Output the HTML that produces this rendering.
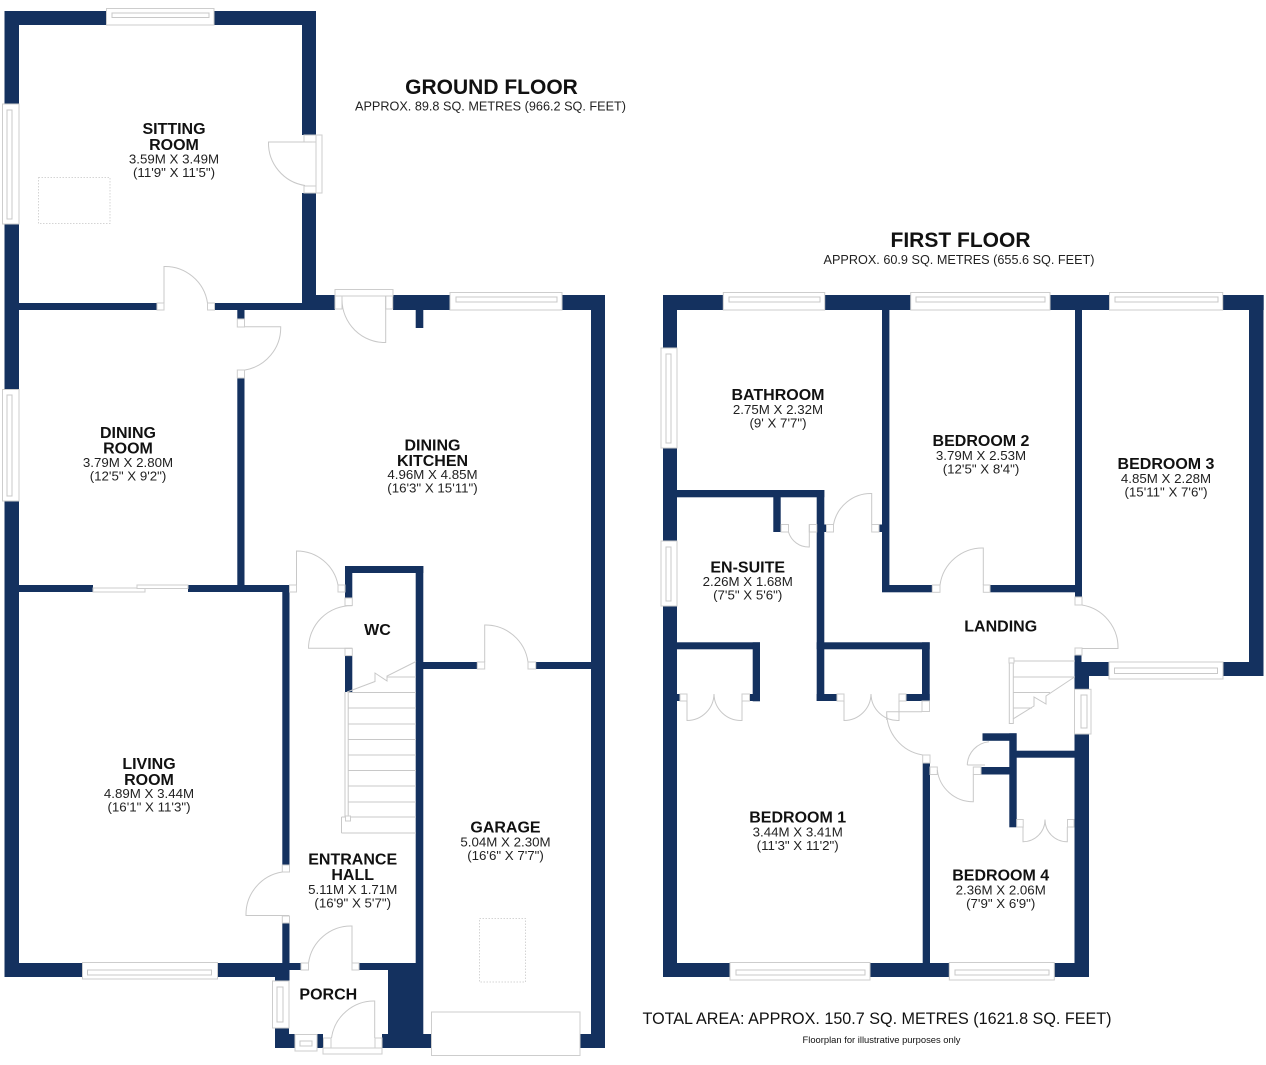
<!DOCTYPE html>
<html><head><meta charset="utf-8"><style>
html,body{margin:0;padding:0;background:#fff}
svg{display:block}
text{font-family:"Liberation Sans",Arial,sans-serif;fill:#111;text-anchor:middle}
.n{font-weight:bold;font-size:16px}
.d{font-size:13.3px;fill:#222}
.l{fill:#fff;stroke:#cdcdcd;stroke-width:1}
.p{fill:none;stroke:#c8c8c8;stroke-width:1}
</style></head><body>
<svg width="1266" height="1065" viewBox="0 0 1266 1065" xmlns="http://www.w3.org/2000/svg">
<rect width="1266" height="1065" fill="#fff"/>
<g fill="#14315f">
<!-- ground: sitting -->
<rect x="4.5" y="11" width="102" height="14"/><rect x="214" y="11" width="102" height="14"/>
<rect x="4.5" y="11" width="14.5" height="93"/><rect x="4.5" y="224" width="14.5" height="165"/><rect x="4.5" y="501" width="14.5" height="476"/>
<rect x="302" y="11" width="14" height="124"/><rect x="302" y="193" width="14" height="110"/>
<rect x="19" y="303" width="138" height="7"/><rect x="215" y="303" width="120" height="7"/><rect x="302" y="295" width="33" height="15"/>
<rect x="237.3" y="310" width="7.2" height="9"/><rect x="237.3" y="378" width="7.2" height="207"/>
<!-- dining/living -->
<rect x="19" y="585" width="74" height="7"/><rect x="188" y="585" width="101.5" height="7"/>
<rect x="282.3" y="585" width="7.2" height="280"/><rect x="282.3" y="923" width="7.2" height="60"/>
<rect x="4.5" y="963" width="78" height="14"/><rect x="217.5" y="963" width="71" height="14"/>
<rect x="275" y="977" width="14" height="5"/>
<rect x="282" y="963" width="19" height="7"/><rect x="359" y="963" width="29" height="7"/>
<!-- kitchen -->
<rect x="393" y="295" width="57" height="15"/><rect x="562" y="295" width="43" height="15"/>
<rect x="591" y="295" width="14" height="753"/><rect x="415.7" y="310" width="7.6" height="18"/>
<rect x="423" y="662" width="54.3" height="7"/><rect x="535.7" y="662" width="55.3" height="7"/>
<!-- wc/hall -->
<rect x="345" y="566" width="78.3" height="7"/><rect x="345" y="566" width="7.3" height="32"/><rect x="345" y="655.6" width="7.3" height="36.4"/>
<rect x="415.7" y="566" width="7.6" height="482"/>
<!-- porch block -->
<rect x="388" y="963" width="35" height="85"/>
<rect x="423" y="1034" width="8.5" height="14"/><rect x="580" y="1034" width="25" height="14"/>
<rect x="275" y="1028" width="14" height="20"/><rect x="275" y="1034" width="20" height="14"/>
<rect x="317" y="1034" width="6" height="14"/><rect x="382" y="1034" width="6" height="14"/>
<!-- first floor perimeter -->
<rect x="663" y="295" width="60.3" height="15"/><rect x="824.7" y="295" width="86" height="15"/><rect x="1050" y="295" width="59.5" height="15"/><rect x="1222.7" y="295" width="41" height="15"/>
<rect x="663" y="295" width="14" height="53"/><rect x="663" y="448" width="14" height="93"/><rect x="663" y="606" width="14" height="371"/>
<rect x="1249" y="295" width="14.5" height="381"/>
<rect x="1223" y="662" width="40" height="14"/><rect x="1074.5" y="662" width="34.5" height="14"/>
<rect x="1074.5" y="655" width="7" height="34"/><rect x="1074.5" y="662" width="14.5" height="27.3"/>
<rect x="1074.5" y="734" width="14.5" height="243"/>
<rect x="663" y="963" width="67" height="14"/><rect x="870" y="963" width="79.3" height="14"/><rect x="1054.3" y="963" width="34.7" height="14"/>
<!-- first floor inner -->
<rect x="882" y="310" width="7.4" height="282"/><rect x="1075" y="310" width="7" height="287"/>
<rect x="882" y="585" width="50.3" height="7.3"/><rect x="990" y="585" width="92" height="7.3"/>
<rect x="677" y="490" width="147.3" height="7.3"/><rect x="816.7" y="490" width="7.6" height="211"/>
<rect x="773.3" y="497" width="7.4" height="35"/>
<rect x="824" y="524.5" width="2.5" height="7.5"/><rect x="879" y="524.5" width="3" height="7.5"/><rect x="677" y="694" width="3" height="7"/>
<rect x="677" y="642.3" width="83" height="7"/><rect x="752.7" y="642.3" width="7.3" height="59"/><rect x="749.5" y="694" width="10.5" height="7"/>
<rect x="816.7" y="642.3" width="113" height="7"/><rect x="922" y="642.3" width="7.7" height="59"/>
<rect x="816.7" y="694" width="20" height="7"/><rect x="906" y="694" width="23.7" height="7"/>
<rect x="922.7" y="763" width="7.3" height="200"/>
<rect x="981" y="767" width="29" height="7.5"/><rect x="1009.3" y="733.3" width="7.4" height="94"/><rect x="982.5" y="733.3" width="34" height="7.5"/>
<rect x="1016" y="750.7" width="58.5" height="7"/>
</g>
<!-- windows -->
<g class="w">
<rect class="l" x="106.5" y="8.5" width="107.5" height="16.5"/><rect class="p" x="112" y="13" width="97" height="4.5"/>
<rect class="l" x="2.5" y="104" width="16.5" height="120"/><rect class="p" x="7" y="110" width="5" height="109"/>
<rect class="l" x="2.5" y="389.5" width="16.5" height="111.5"/><rect class="p" x="7" y="395" width="5" height="101"/>
<rect class="l" x="82.5" y="962.5" width="135" height="16.5"/><rect class="p" x="87.5" y="970" width="124" height="5"/>
<rect class="l" x="450" y="292.5" width="112" height="17.5"/><rect class="p" x="456" y="297" width="101" height="5"/>
<rect class="l" x="723.3" y="292.5" width="101.4" height="17.5"/><rect class="p" x="729" y="297" width="91" height="5"/>
<rect class="l" x="910.7" y="292.5" width="139.3" height="17.5"/><rect class="p" x="916" y="297" width="129" height="5"/>
<rect class="l" x="1109.5" y="292.5" width="113.2" height="17.5"/><rect class="p" x="1115" y="297" width="103" height="5"/>
<rect class="l" x="661" y="348" width="16" height="100"/><rect class="p" x="666" y="354" width="5" height="89"/>
<rect class="l" x="661" y="541" width="16" height="65"/><rect class="p" x="666" y="547" width="5" height="54"/>
<rect class="l" x="1109" y="662" width="114" height="17"/><rect class="p" x="1114.5" y="668" width="103" height="5.5"/>
<rect class="l" x="730" y="962.5" width="140" height="17.5"/><rect class="p" x="736" y="970" width="129" height="5"/>
<rect class="l" x="949.3" y="962.5" width="105" height="17.5"/><rect class="p" x="955" y="970" width="94" height="5"/>
<rect class="l" x="1074.5" y="689.3" width="16.5" height="44.7"/><rect class="p" x="1081" y="695" width="6" height="33"/>
<rect class="l" x="272.5" y="981" width="16.5" height="47"/><rect class="p" x="277" y="987" width="6" height="35"/>
<rect class="l" x="295" y="1034.5" width="22" height="16.5"/><rect class="p" x="300" y="1041" width="12" height="5"/>
<!-- sliding door -->
<rect class="l" x="93" y="588" width="52" height="4"/><rect class="l" x="137" y="585" width="51" height="3.5"/>
<!-- frames -->
<rect class="l" x="316" y="135" width="6" height="58"/>
<rect class="l" x="335" y="289.5" width="58" height="6.5"/>
<rect class="l" x="323" y="1048" width="59" height="6"/>
<rect class="l" x="431.5" y="1012" width="148.5" height="43.5"/>
</g>
<!-- dotted roof lights -->
<rect x="38.5" y="177.5" width="71.5" height="46" fill="none" stroke="#d4d4d4" stroke-width="1" stroke-dasharray="1.5 1.5"/>
<rect x="479.5" y="918.5" width="46" height="63.5" fill="none" stroke="#d4d4d4" stroke-width="1" stroke-dasharray="1.5 1.5"/>
<!-- door jambs -->
<g class="j">
<rect class="l" x="304" y="135" width="12" height="7"/><rect class="l" x="304" y="186" width="12" height="7"/>
<rect class="l" x="157" y="303" width="7" height="7"/><rect class="l" x="207.5" y="303" width="7" height="7"/>
<rect class="l" x="237.3" y="319" width="7.2" height="8"/><rect class="l" x="237.3" y="370" width="7.2" height="8"/>
<rect class="l" x="335" y="296" width="7" height="13"/><rect class="l" x="385.7" y="296" width="7" height="13"/>
<rect class="l" x="289.5" y="585" width="7" height="7"/><rect class="l" x="338" y="585" width="7" height="7"/>
<rect class="l" x="345" y="598" width="7.3" height="7.6"/><rect class="l" x="345" y="648.3" width="7.3" height="7.3"/>
<rect class="l" x="477.3" y="662" width="7.4" height="7"/><rect class="l" x="528" y="662" width="7.7" height="7"/>
<rect class="l" x="282.3" y="865" width="7.2" height="7"/><rect class="l" x="282.3" y="916" width="7.2" height="7"/>
<rect class="l" x="301" y="963" width="7.5" height="7"/><rect class="l" x="352" y="963" width="7" height="7"/>
<rect class="l" x="323.5" y="1038" width="7.5" height="10"/><rect class="l" x="375" y="1038" width="7" height="10"/>
<rect class="l" x="871.7" y="524.5" width="7.3" height="7.5"/><rect class="l" x="826.5" y="524.5" width="7" height="7.5"/>
<rect class="l" x="781" y="524.5" width="7.5" height="7.5"/><rect class="l" x="809.3" y="524.5" width="7.4" height="7.5"/>
<rect class="l" x="932.3" y="585" width="7.7" height="7.3"/><rect class="l" x="983.3" y="585" width="6.7" height="7.3"/>
<rect class="l" x="1075" y="597" width="7" height="8"/><rect class="l" x="1075" y="648" width="7" height="7"/>
<rect class="l" x="680" y="694" width="7" height="7"/><rect class="l" x="742" y="694" width="7.5" height="7"/>
<rect class="l" x="837" y="694" width="7" height="7"/><rect class="l" x="899" y="694" width="7" height="7"/>
<rect class="l" x="922" y="701" width="7.5" height="10.5"/>
<rect class="l" x="922.7" y="755" width="7.3" height="8"/>
<rect class="l" x="930" y="767" width="7.3" height="7.5"/><rect class="l" x="973.3" y="767" width="7.7" height="7.5"/>
<rect class="l" x="1016.7" y="819.5" width="6.5" height="7.5"/><rect class="l" x="1067.5" y="819.5" width="6.5" height="7.5"/>
</g>
<!-- door leaves -->
<g class="p">
<path d="M312 142H268.5A43 43 0 0 0 305 185.5"/>
<path d="M164 303V266.5A43 43 0 0 1 207.5 303"/>
<path d="M244.5 326.7H280.7A43 43 0 0 1 245 370"/>
<path d="M385.7 296V342.5A43 43 0 0 1 342 300"/>
<path d="M296.5 585V551A42 42 0 0 1 338 585"/>
<path d="M352 648.3H308.5A43 43 0 0 1 352 605.6"/>
<path d="M484.7 662V625A43 43 0 0 1 528 662"/>
<path d="M289 915.5H246A43 43 0 0 1 282.3 872"/>
<path d="M352 963V926A43 43 0 0 0 308.5 963"/>
<path d="M374.7 1038V1001A43 43 0 0 0 331.5 1038"/>
<path d="M871.7 524.5V493.5A38 38 0 0 0 833.5 524.5"/>
<path d="M809.3 524.5V547A21 21 0 0 1 788.5 532"/>
<path d="M983.3 585V548A43 43 0 0 0 940 585"/>
<path d="M1082 648.5H1118A43 43 0 0 0 1082 605"/>
<path d="M687 701V720.5A27 27 0 0 0 714 694A27 27 0 0 0 742 720.5V701"/>
<path d="M844 701V720.5A27 27 0 0 0 871 694A27 27 0 0 0 899 720.5V701"/>
<path d="M922 711.7H886.7A43 43 0 0 0 922.7 755M886.7 711.7V720"/>
<path d="M973.3 774.5V801.7A36 36 0 0 1 937.3 770"/>
<path d="M967.3 765A24 24 0 0 1 989 741.7M967.3 765H985"/>
<path d="M1023 827V841.7A22 22 0 0 0 1045 819.5A22 22 0 0 0 1067.3 841.7V827"/>
<!-- ground stairs -->
<path d="M345 692V817M348.2 692V817M345 817H348.2"/>
<path d="M348 692.5H416M348 708H416M348 724H416M348 739.5H416M348 755H416M348 770.5H416M348 786H416M348 802H416M348 817H416M341.5 833H416M341.5 817V833M341.5 817H345"/>
<path d="M347 692L375 681.5V673L387 681V676L416 661.5M387 677H416"/>
<!-- first floor stairs -->
<path d="M1009.3 660V723.5H1013.3V660"/>
<path d="M1013 661H1075M1013 677H1075M1013 692.5H1050M1013 708H1032"/>
<path d="M1074.5 677L1046 696V704L1034 697V706L1013 719"/>
</g>
<rect class="l" x="345.5" y="816" width="5" height="5"/>
<rect class="l" x="1009" y="658" width="5" height="5"/>
<!-- titles -->
<text x="491.5" y="94" style="font-weight:bold;font-size:21px">GROUND FLOOR</text>
<text x="490.5" y="110.5" class="d" textLength="271" lengthAdjust="spacingAndGlyphs">APPROX. 89.8 SQ. METRES (966.2 SQ. FEET)</text>
<text x="960.5" y="247" style="font-weight:bold;font-size:21px">FIRST FLOOR</text>
<text x="959" y="264" class="d" textLength="271" lengthAdjust="spacingAndGlyphs">APPROX. 60.9 SQ. METRES (655.6 SQ. FEET)</text>
<text x="877" y="1024" style="font-size:16.5px" textLength="469" lengthAdjust="spacingAndGlyphs">TOTAL AREA: APPROX. 150.7 SQ. METRES (1621.8 SQ. FEET)</text>
<text x="881.5" y="1043" style="font-size:9.5px" textLength="158" lengthAdjust="spacingAndGlyphs">Floorplan for illustrative purposes only</text>
<!-- rooms -->
<text class="n" x="174" y="134">SITTING</text><text class="n" x="174" y="150">ROOM</text><text class="d" x="174" y="163.5">3.59M X 3.49M</text><text class="d" x="174" y="177">(11'9" X 11'5")</text>
<text class="n" x="128" y="438">DINING</text><text class="n" x="128" y="453.5">ROOM</text><text class="d" x="128" y="467">3.79M X 2.80M</text><text class="d" x="128" y="480.5">(12'5" X 9'2")</text>
<text class="n" x="432.5" y="450.5">DINING</text><text class="n" x="432.5" y="466">KITCHEN</text><text class="d" x="432.5" y="479">4.96M X 4.85M</text><text class="d" x="432.5" y="492.5">(16'3" X 15'11")</text>
<text class="n" x="149" y="769">LIVING</text><text class="n" x="149" y="785">ROOM</text><text class="d" x="149" y="798">4.89M X 3.44M</text><text class="d" x="149" y="811.5">(16'1" X 11'3")</text>
<text class="n" x="377.5" y="635">WC</text>
<text class="n" x="505.5" y="832.7">GARAGE</text><text class="d" x="505.5" y="846.7">5.04M X 2.30M</text><text class="d" x="505.5" y="860">(16'6" X 7'7")</text>
<text class="n" x="352.7" y="864.3">ENTRANCE</text><text class="n" x="352.7" y="880">HALL</text><text class="d" x="352.7" y="894">5.11M X 1.71M</text><text class="d" x="352.7" y="907.5">(16'9" X 5'7")</text>
<text class="n" x="328.3" y="999.3">PORCH</text>
<text class="n" x="778" y="400">BATHROOM</text><text class="d" x="778" y="414">2.75M X 2.32M</text><text class="d" x="778" y="427.5">(9' X 7'7")</text>
<text class="n" x="981" y="446">BEDROOM 2</text><text class="d" x="981" y="460">3.79M X 2.53M</text><text class="d" x="981" y="473.5">(12'5" X 8'4")</text>
<text class="n" x="1166" y="469">BEDROOM 3</text><text class="d" x="1166" y="483">4.85M X 2.28M</text><text class="d" x="1166" y="496.5">(15'11" X 7'6")</text>
<text class="n" x="747.7" y="572.3">EN-SUITE</text><text class="d" x="747.7" y="586">2.26M X 1.68M</text><text class="d" x="747.7" y="599.5">(7'5" X 5'6")</text>
<text class="n" x="1000.7" y="631.7">LANDING</text>
<text class="n" x="797.7" y="822.7">BEDROOM 1</text><text class="d" x="797.7" y="836.7">3.44M X 3.41M</text><text class="d" x="797.7" y="850">(11'3" X 11'2")</text>
<text class="n" x="1000.7" y="880.7">BEDROOM 4</text><text class="d" x="1000.7" y="894.3">2.36M X 2.06M</text><text class="d" x="1000.7" y="907.8">(7'9" X 6'9")</text>
</svg>
</body></html>
